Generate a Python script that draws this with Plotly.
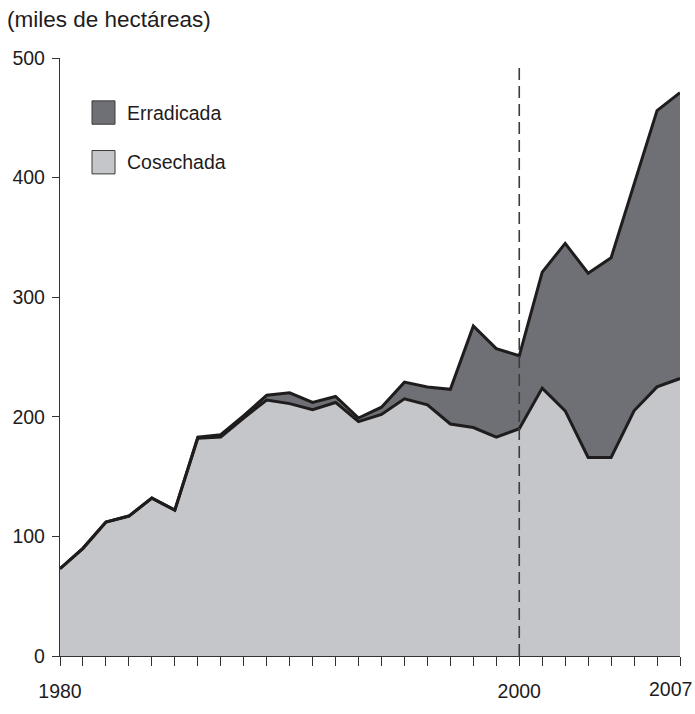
import plotly.graph_objects as go

years = list(range(1980, 2008))
cosechada = [73, 90, 112, 117, 132, 122, 182, 183, 199, 214, 211, 206, 212, 196,
             202, 215, 210, 194, 191, 183, 190, 224, 205, 166, 166, 205, 225, 232]
erradicada = [0, 0, 0, 0, 0, 0, 1, 2, 2, 4, 9, 6, 5, 3,
              6, 14, 15, 29, 85, 74, 61, 97, 140, 154, 167, 189, 231, 239]
tick_labels = {1980: "1980", 2000: "2000"}
edge_label_year = 2007
series_names = ["Erradicada", "Cosechada"]

W, H = 695, 714
ML, MR, MT, MB = 60, 15, 58, 42
PW, PH = W - ML - MR, H - MT - MB

def px(x):
    return (x - ML) / PW

def py(y):
    return (H - MB - y) / PH

LINE = "#1f1c1d"
DARK = "#6f7075"
LIGHT = "#c5c6ca"
FONT = "Liberation Sans, Arial, Helvetica, sans-serif"

fig = go.Figure()
fig.add_trace(go.Scatter(x=years, y=cosechada, stackgroup="s", mode="lines",
                         name="Cosechada", fillcolor=LIGHT,
                         line=dict(color=LINE, width=3)))
fig.add_trace(go.Scatter(x=years, y=erradicada, stackgroup="s", mode="lines",
                         name="Erradicada", fillcolor=DARK,
                         line=dict(color=LINE, width=3)))

shapes = [
    dict(type="line", xref="x", yref="y", x0=2000, x1=2000, y0=0, y1=492,
         line=dict(color="#3c3c3c", width=1.6, dash="12px,6px"), layer="above"),
]
annotations = [
    dict(text="(miles de hectáreas)", xref="paper", yref="paper", x=px(5), y=py(18),
         xanchor="left", yanchor="middle", showarrow=False,
         font=dict(size=22.5, color=LINE, family=FONT)),
    dict(text=str(edge_label_year), xref="paper", yref="paper", x=px(694), y=py(706),
         xanchor="right", yanchor="middle", showarrow=False,
         font=dict(size=19.5, color=LINE, family=FONT)),
]
legend_rows = [(series_names[0], DARK, 114), (series_names[1], LIGHT, 165)]
for name, col, yc in legend_rows:
    shapes.append(dict(type="rect", xref="paper", yref="paper",
                       x0=px(92), x1=px(115), y0=py(yc + 12), y1=py(yc - 12),
                       fillcolor=col, line=dict(color="#3a3a3a", width=1)))
    annotations.append(dict(text=name, xref="paper", yref="paper", x=px(125), y=py(yc),
                            xanchor="left", yanchor="middle", showarrow=False,
                            font=dict(size=19.5, color=LINE, family=FONT)))

fig.update_layout(
    width=W, height=H,
    margin=dict(l=ML, r=MR, t=MT, b=MB),
    paper_bgcolor="white", plot_bgcolor="white",
    showlegend=False,
    font=dict(family=FONT, size=19.5, color=LINE),
    shapes=shapes, annotations=annotations,
    xaxis=dict(range=[1980, 2007], tickvals=years,
               ticktext=[tick_labels.get(y, "") for y in years],
               ticks="outside", ticklen=9, tickwidth=1.3, tickcolor="#333",
               showline=True, linecolor="#333", linewidth=1.3,
               showgrid=False, zeroline=False, ticklabelstandoff=8),
    yaxis=dict(range=[0, 500], tickvals=[0, 100, 200, 300, 400, 500],
               ticks="outside", ticklen=7, tickwidth=1.3, tickcolor="#333",
               showline=True, linecolor="#333", linewidth=1.3,
               showgrid=False, zeroline=False, ticklabelstandoff=3),
)

fig.write_html("out.html",
               config={"displayModeBar": False},
               post_script="document.body.style.margin='0';document.body.style.overflow='hidden';")
